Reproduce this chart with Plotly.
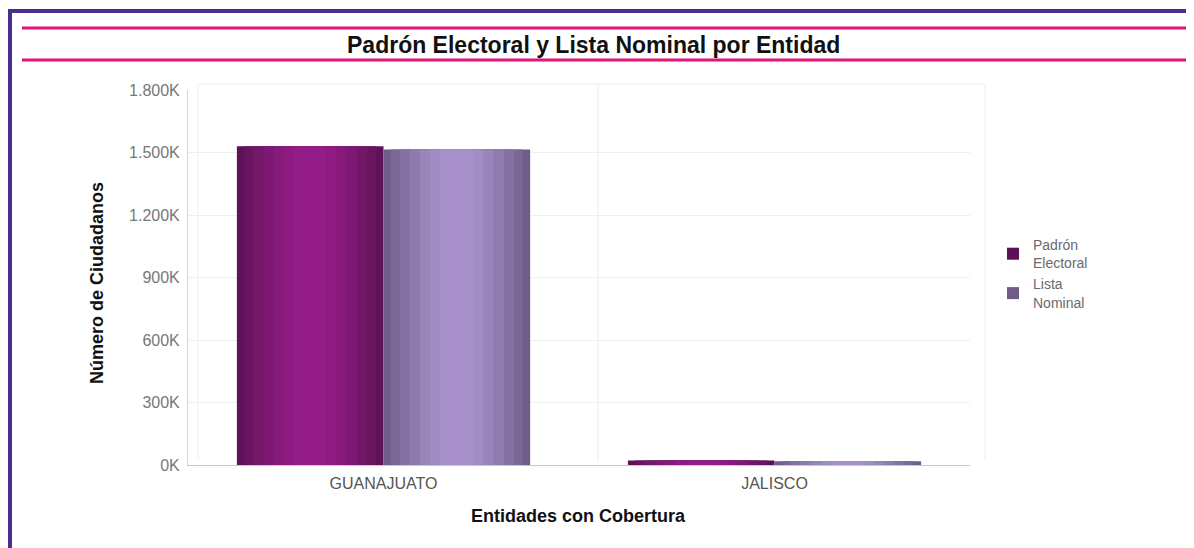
import plotly.graph_objects as go

categories = ["GUANAJUATO", "JALISCO"]
series_names = ["Padrón<br>Electoral", "Lista<br>Nominal"]
padron = [1530000, 22000]
lista = [1515000, 18000]
tick_vals = [0, 300000, 600000, 900000, 1200000, 1500000, 1800000]
tick_text = ["0K", "300K", "600K", "900K", "1.200K", "1.500K", "1.800K"]

OFF = 8  # page body margin
W, H = 1194 - OFF, 548 - OFF
L, R, T, B = 188, 970, 90, 465  # plot area in page pixels

FONT = "Liberation Sans, Arial, sans-serif"


def px(x):
    return (x - L) / (R - L)


def py(y):
    return (B - y) / (B - T)


fig = go.Figure()

bar_w = 0.375
shades = {
    0: ["#5e1156", "#68145f", "#731769", "#7d1972", "#861a7b", "#8e1b82", "#941c88"],
    1: ["#6f5d88", "#7a6796", "#8572a3", "#8f7caf", "#9985ba", "#a18cc3", "#a891ca"],
}
fracs = [1.0, 0.9, 0.78, 0.64, 0.5, 0.36, 0.22]
for si, (vals, name) in enumerate([(padron, series_names[0]), (lista, series_names[1])]):
    center = -bar_w / 2 if si == 0 else bar_w / 2
    for k, frac in enumerate(fracs):
        w = bar_w * frac
        fig.add_trace(go.Bar(
            x=categories, y=vals, name=name,
            width=w, offset=center - w / 2,
            marker=dict(color=shades[si][k], line=dict(width=0)),
            showlegend=(k == 0), legendgroup=name,
        ))

fig.update_layout(
    width=W, height=H,
    barmode="overlay",
    paper_bgcolor="white", plot_bgcolor="white",
    margin=dict(l=L - OFF, r=W - (R - OFF), t=T - OFF, b=H - (B - OFF)),
    font=dict(family=FONT, color="#666"),
    showlegend=True,
    legend=dict(x=px(993), y=py(229), xanchor="left", yanchor="top",
                font=dict(size=14, color="#6a6a6a"), bgcolor="rgba(0,0,0,0)",
                itemsizing="constant", tracegroupgap=0, itemwidth=30),
    xaxis=dict(range=[-0.5, 1.5], showgrid=False, showline=True, linecolor="#c8c8c8",
               linewidth=1, ticks="", tickfont=dict(size=16, color="#555"), fixedrange=True,
               ticklabelstandoff=4),
    yaxis=dict(range=[0, 1800000], tickvals=tick_vals, ticktext=tick_text,
               showgrid=True, gridcolor="#efefef", zeroline=False,
               showline=True, linecolor="#d4d4d4", linewidth=1, ticks="",
               tickfont=dict(size=16, color="#777"), fixedrange=True,
               ticklabelstandoff=4),
)

shapes = []
shapes.append(dict(type="line", xref="paper", yref="paper", x0=px(8), x1=px(1194), y0=py(11), y1=py(11),
                   line=dict(color="#4b2f8c", width=4)))
shapes.append(dict(type="line", xref="paper", yref="paper", x0=px(10), x1=px(10), y0=py(11), y1=py(548),
                   line=dict(color="#4b2f8c", width=4)))
for yy in (28, 60):
    shapes.append(dict(type="line", xref="paper", yref="paper", x0=px(22), x1=px(1191), y0=py(yy), y1=py(yy),
                       line=dict(color="#e0137f", width=3)))
shapes.append(dict(type="line", xref="paper", yref="paper", x0=px(198), x1=px(985), y0=py(84), y1=py(84),
                   line=dict(color="#eeeeee", width=1)))
shapes.append(dict(type="line", xref="paper", yref="paper", x0=px(598), x1=px(598), y0=py(84), y1=py(462),
                   line=dict(color="#ececec", width=1)))
shapes.append(dict(type="line", xref="paper", yref="paper", x0=px(985), x1=px(985), y0=py(84), y1=py(460),
                   line=dict(color="#eeeeee", width=1)))
shapes.append(dict(type="line", xref="paper", yref="paper", x0=px(198), x1=px(198), y0=py(84), y1=py(460),
                   line=dict(color="#eeeeee", width=1)))
fig.update_layout(shapes=shapes)

annotations = [
    dict(text="<b>Padrón Electoral y Lista Nominal por Entidad</b>", xref="paper", yref="paper",
         x=px(593), y=py(45), xanchor="center", yanchor="middle", showarrow=False,
         font=dict(size=23, color="#111", family=FONT)),
    dict(text="<b>Número de Ciudadanos</b>", xref="paper", yref="paper",
         x=px(97), y=py(283), xanchor="center", yanchor="middle", showarrow=False, textangle=-90,
         font=dict(size=18, color="#111")),
    dict(text="<b>Entidades con Cobertura</b>", xref="paper", yref="paper",
         x=px(578), y=py(516), xanchor="center", yanchor="middle", showarrow=False,
         font=dict(size=18, color="#111")),
]
fig.update_layout(annotations=annotations)

fig.write_html("out.html")
